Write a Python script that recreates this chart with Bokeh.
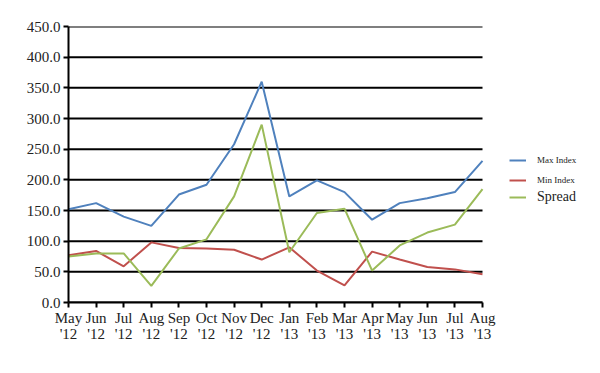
from bokeh.plotting import figure
from bokeh.models import Range1d, FixedTicker, PrintfTickFormatter, Legend, LegendItem
from bokeh.embed import file_html
from bokeh.resources import INLINE

months = ["May\n'12", "Jun\n'12", "Jul\n'12", "Aug\n'12", "Sep\n'12", "Oct\n'12", "Nov\n'12", "Dec\n'12",
          "Jan\n'13", "Feb\n'13", "Mar\n'13", "Apr\n'13", "May\n'13", "Jun\n'13", "Jul\n'13", "Aug\n'13"]
max_index = [152, 162, 140, 125, 176, 192, 258, 360, 173, 199, 180, 135, 162, 170, 180, 231]
min_index = [77, 84, 59, 98, 89, 88, 86, 70, 90, 52, 28, 83, 70, 58, 54, 46]
spread = [75, 80, 80, 27, 88, 103, 173, 290, 82, 146, 153, 52, 93, 114, 127, 185]
y_ticks = [0, 50, 100, 150, 200, 250, 300, 350, 400, 450]

FONT = "Liberation Serif"
idx = list(range(len(months)))
last = len(months) - 1

W, H = 592, 360
LEFT, TOP, RIGHT_B, BOTTOM = 68, 26, 5, 58
frame_w = W - LEFT - RIGHT_B
plot_w = 414  # width occupied by the data
x_end = last * frame_w / plot_w

p = figure(width=W, height=H, output_backend="svg", toolbar_location=None,
           x_range=Range1d(0, x_end), y_range=Range1d(0, 450),
           min_border_left=LEFT, min_border_top=TOP, min_border_right=RIGHT_B, min_border_bottom=BOTTOM)
p.outline_line_color = None
p.background_fill_color = "white"
p.border_fill_color = "white"
p.xgrid.visible = False
p.ygrid.visible = False

# horizontal gridlines only across the data area
p.segment(x0=[0] * len(y_ticks), x1=[last] * len(y_ticks), y0=y_ticks, y1=y_ticks,
          line_color="black", line_width=2)

r_max = p.line(idx, max_index, line_color="#4f81bd", line_width=2)
r_min = p.line(idx, min_index, line_color="#c0504d", line_width=2)
r_spr = p.line(idx, spread, line_color="#9bbb59", line_width=2)

p.yaxis.ticker = FixedTicker(ticks=y_ticks)
p.yaxis.formatter = PrintfTickFormatter(format="%.1f")
p.xaxis.ticker = FixedTicker(ticks=idx)
p.xaxis.bounds = (0, last)
p.xaxis.major_label_overrides = {i: m for i, m in zip(idx, months)}

for ax in (p.xaxis, p.yaxis):
    ax.axis_line_color = "black"
    ax.axis_line_width = 2
    ax.major_tick_line_color = "black"
    ax.major_tick_line_width = 2
    ax.major_tick_out = 5
    ax.major_tick_in = 0
    ax.minor_tick_line_color = None
    ax.major_label_text_font = FONT
    ax.major_label_text_font_size = "15px"
    ax.major_label_text_color = "#222222"
p.yaxis.major_label_standoff = 3
p.xaxis.major_label_standoff = 2
p.xaxis.major_label_text_line_height = 1.05

leg1 = Legend(items=[LegendItem(label="Max Index", renderers=[r_max]),
                     LegendItem(label="Min Index", renderers=[r_min])],
              location=(441, 112))
leg2 = Legend(items=[LegendItem(label="Spread", renderers=[r_spr])], location=(441, 95))
for lg, fs in ((leg1, "9px"), (leg2, "14px")):
    lg.label_text_font = FONT
    lg.label_text_font_size = fs
    lg.label_text_color = "#222222"
    lg.glyph_width = 17
    lg.glyph_height = 20
    lg.label_height = 20
    lg.label_standoff = 11
    lg.spacing = 0
    lg.padding = 0
    lg.margin = 0
    lg.border_line_color = None
    lg.background_fill_alpha = 0
    p.add_layout(lg, "center")

open("out.html", "w").write(file_html(p, INLINE))
